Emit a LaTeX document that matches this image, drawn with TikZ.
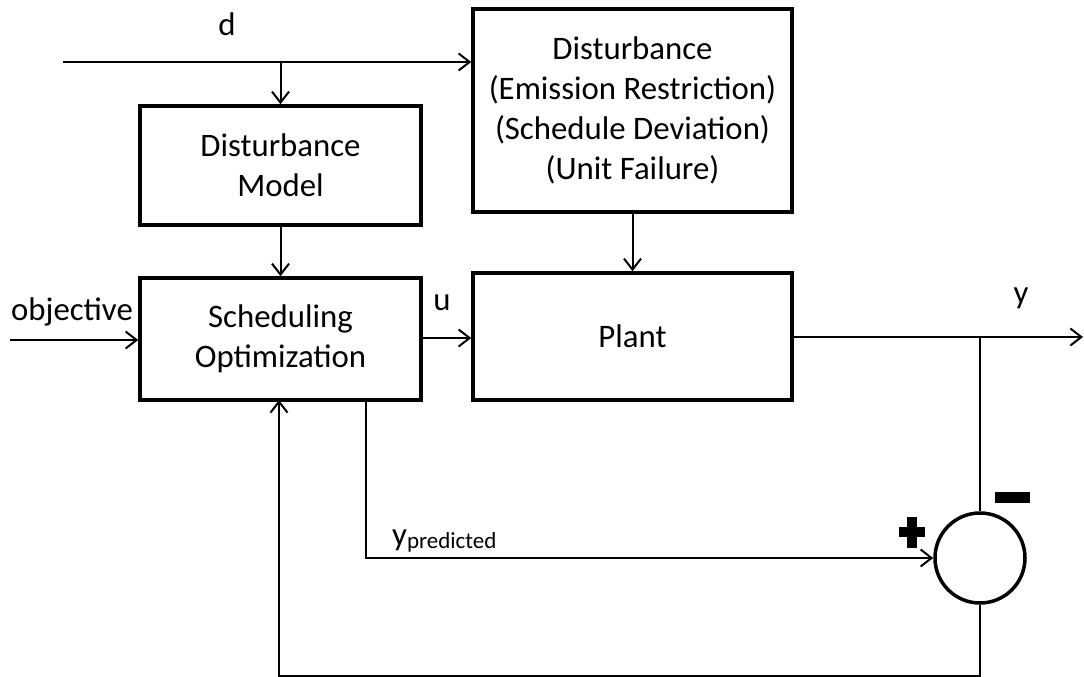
\documentclass[tikz,border=0pt]{standalone}
\usepackage{fontspec}
\setmainfont{Carlito}
\usetikzlibrary{arrows.meta,calc}

\tikzset{
  block/.style={draw, line width=3.5pt, rectangle, inner sep=0pt, align=center,
                font=\fontsize{32.8}{40}\selectfont},
  sumjunction/.style={draw, line width=3.5pt, circle, inner sep=0pt, minimum size=90pt},
  wire/.style={line width=2pt},
  flow/.style={wire, -{Straight Barb[length=11pt,width=17pt,line width=2pt]}},
  lbl/.style={inner sep=0pt, font=\fontsize{32.8}{38}\selectfont},
}

\begin{document}
\begin{tikzpicture}[x=1pt, y=-1pt]
  \useasboundingbox (0,0) rectangle (1084,677);

  % blocks
  \node[block, minimum width=281pt, minimum height=119pt] (dm) at (280.5,165.5)
    {Disturbance\\Model};
  \node[block, minimum width=281pt, minimum height=122pt] (so) at (280.5,339)
    {Scheduling\\Optimization};
  \node[block, minimum width=319pt, minimum height=203pt] (dist) at (632.5,110.5)
    {Disturbance\\(Emission Restriction)\\(Schedule Deviation)\\(Unit Failure)};
  \node[block, minimum width=319pt, minimum height=127pt] (plant) at (632.5,336.5)
    {Plant};
  \node[sumjunction] (sum) at (980,558) {};

  % free ends and branch points
  \coordinate (din) at (63,62);
  \coordinate (dsplit) at (280.5,62);
  \coordinate (objin) at (10,340);
  \coordinate (yout) at (1083,337);
  \coordinate (ysplit) at (980,337);
  \coordinate (ptop) at (366,400);
  \coordinate (pcorner) at (366,558);
  \coordinate (fbright) at (980,676);
  \coordinate (fbleft) at (279,676);
  \coordinate (fbtop) at (279,400);

  % disturbance input
  \draw[flow] (din) -- (din -| dist.west);
  \draw[flow] (dsplit) -- (dm.north);
  \draw[flow] (dm.south) -- (so.north);
  \draw[flow] (dist.south) -- (plant.north);

  % main loop
  \draw[flow] (objin) -- (objin -| so.west);
  \draw[flow] (so.east |- 0,338) -- (plant.west |- 0,338);
  \draw[flow] (plant.east |- yout) -- (yout);
  \draw[wire] (ysplit) -- (sum.north);
  \draw[flow] (ptop) -- (pcorner) -- (sum.west);
  \draw[flow] (sum.south) -- (fbright) -- (fbleft) -- (fbtop);

  % signal labels
  \node[lbl] (ld) at (227,24) {d};
  \node[lbl] (lu) at (442,303) {u};
  \node[lbl] (ly) at (1021,298) {y};
  \node[lbl] (lobj) at (72,312) {objective};
  \node[lbl, anchor=base west] (lyp) at (392,545)
    {y\raisebox{-0.25ex}{\fontsize{23}{23}\selectfont predicted}};

  % signs at the summing junction
  \fill (995,492) rectangle (1030,503);
  \fill (899,527) rectangle (925,537);
  \fill (907,517) rectangle (917,548);
\end{tikzpicture}
\end{document}
